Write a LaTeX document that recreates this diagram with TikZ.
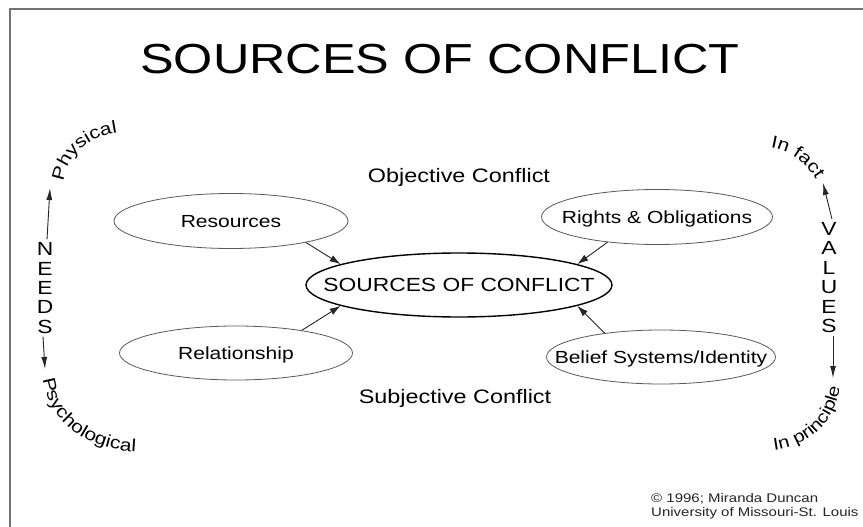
\documentclass[tikz,border=0pt]{standalone}
\usepackage{fontspec}
\setmainfont{Liberation Sans}[FakeStretch=1.2]
\usetikzlibrary{shapes.geometric,arrows.meta,decorations.text}
\begin{document}
\begin{tikzpicture}[x=1pt,y=-1pt,
  lbl/.style={inner sep=0pt, text=black},
  oval/.style={ellipse, draw=black!65, line width=0.8pt, inner sep=0pt},
  otext/.style={inner sep=0pt, text=black, font=\fontsize{17.5}{17.5}\selectfont, text height=12.5pt, text depth=0pt},
  arr/.style={draw=black!85, line width=0.9pt, -{Latex[length=11pt,width=7pt]}},
  sarr/.style={draw=black!85, line width=0.9pt, -{Latex[length=12pt,width=6pt]}},
  stack/.style={inner sep=3pt, align=center, text=black, font=\fontsize{19}{19.4}\selectfont},
  curv/.style={decorate, decoration={text along path, text align=center, text={#1}}}
]
\useasboundingbox (0,0) rectangle (863,527);
\fill[white] (0,0) rectangle (863,527);
\draw[black!55, line width=2pt] (10,527) -- (10,9) -- (863,9);

% title and headings
\node[lbl, font=\fontsize{42}{42}\selectfont] (title) at (440,59) {SOURCES OF CONFLICT};
\node[lbl, anchor=base, font=\fontsize{19.5}{19.5}\selectfont] (obj) at (459,182) {Objective Conflict};
\node[lbl, anchor=base, font=\fontsize{19.5}{19.5}\selectfont] (subj) at (455,403) {Subjective Conflict};

% ellipses
\node[oval, minimum width=234pt, minimum height=55pt] (res) at (231,221) {};
\node[otext] (resT) at (res) {Resources};
\node[oval, minimum width=231pt, minimum height=55pt] (rig) at (657,217) {};
\node[otext] (rigT) at (rig) {Rights \& Obligations};
\node[oval, draw=black, line width=1.4pt, minimum width=306pt, minimum height=64pt] (cen) at (459,285) {};
\node[otext, font=\fontsize{19}{19}\selectfont, text height=13.6pt] (cenT) at (cen) {SOURCES OF CONFLICT};
\node[oval, minimum width=233pt, minimum height=54pt] (rel) at (236,353) {};
\node[otext] (relT) at (rel) {Relationship};
\node[oval, minimum width=229pt, minimum height=54pt] (bel) at (661,357) {};
\node[otext] (belT) at (bel) {Belief Systems/Identity};

\draw[arr] (res.-16) -- (cen.170);
\draw[arr] (rig.207) -- (cen.10);
\draw[arr] (rel.19) -- (cen.190);
\draw[arr] (bel.157) -- (cen.-10);

% NEEDS side
\node[stack] (needs) at (45,288) {N\\E\\E\\D\\S};
\coordinate (phyTip) at (50,188);
\coordinate (psyTip) at (45,369);
\draw[sarr] ([xshift=2pt]needs.north) -- (phyTip);
\draw[sarr] ([xshift=-2pt]needs.south) -- (psyTip);
\path[curv={|\fontsize{17.5}{17.5}\selectfont|Physical}] (63,188) .. controls (64,158) and (86,135) .. (124,132);
\path[curv={|\fontsize{17.5}{17.5}\selectfont|Psychological}] (42,370) .. controls (44,418) and (82,452) .. (145,452);

% VALUES side
\node[stack] (values) at (829,277.5) {V\\A\\L\\U\\E\\S};
\coordinate (facTip) at (823,183);
\coordinate (prTip) at (833,378);
\draw[sarr] ([xshift=3pt]values.north) -- (facTip);
\draw[sarr] ([xshift=4pt]values.south) -- (prTip);
\path[curv={|\fontsize{17.5}{17.5}\selectfont|In fact}] (762,147) .. controls (786,148) and (807,160) .. (820,187);
\path[curv={|\fontsize{17}{17}\selectfont|In principle}] (764,451) .. controls (802,450) and (838,428) .. (841,377);

% copyright
\node[lbl, anchor=base west, text=black!85, font=\fontsize{12.5}{12.5}\selectfont] (cp1) at (651,502) {© 1996; Miranda Duncan};
\node[lbl, anchor=base west, text=black!85, font=\fontsize{12.5}{12.5}\selectfont] (cp2) at (651,516) {University of Missouri-St. Louis};
\end{tikzpicture}
\end{document}
